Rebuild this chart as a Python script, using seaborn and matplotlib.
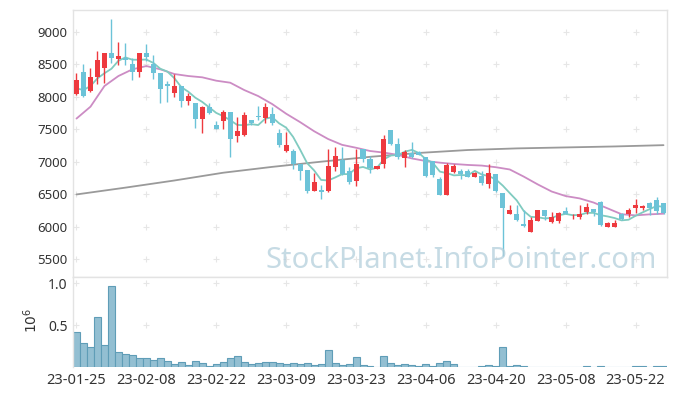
import numpy as np
import pandas as pd
import matplotlib
matplotlib.use("Agg")
import matplotlib.pyplot as plt
import seaborn as sns

# ---------------- data ----------------
tick_labels = ["23-01-25", "23-02-08", "23-02-22", "23-03-09", "23-03-23",
               "23-04-06", "23-04-20", "23-05-08", "23-05-22"]

open_ = [8040, 8380, 8090, 8300, 8450, 8680, 8580, 8600, 8500, 8390,
         8680, 8500, 8360, 8200, 8060, 8170, 7930, 7900, 7660, 7850,
         7570, 7620, 7760, 7400, 7410, 7640, 7700, 7680, 7740, 7450,
         7170, 7170, 6970, 6870, 6550, 6560, 6550, 6920, 7030, 6850,
         6700, 7190, 7040, 6890, 6960, 7490, 7270, 7050, 7130, 7150,
         7070, 7010, 6740, 6490, 6840, 6860, 6850, 6770, 6780, 6660,
         6810, 6510, 6200, 6190, 6040, 5910, 6090, 6250, 6070, 6080,
         6240, 6140, 6140, 6230, 6270, 6380, 6000, 5990, 6190, 6190,
         6290, 6280, 6370, 6410, 6360]
high = [8370, 8510, 8440, 8700, 8680, 9200, 8840, 8830, 8600, 8680,
        8820, 8650, 8360, 8240, 8350, 8170, 8060, 7900, 7860, 7910,
        7630, 7790, 7760, 7690, 7760, 7640, 7860, 7900, 7840, 7500,
        7460, 7200, 6970, 6870, 6820, 6640, 7200, 7220, 7220, 6920,
        7200, 7190, 7090, 6940, 7410, 7490, 7360, 7180, 7300, 7160,
        7070, 7010, 6770, 6980, 6970, 6890, 6880, 6840, 6860, 6970,
        6810, 6510, 6330, 6330, 6260, 6150, 6260, 6250, 6220, 6230,
        6300, 6190, 6330, 6360, 6270, 6390, 6070, 6100, 6210, 6280,
        6420, 6330, 6380, 6450, 6360]
low = [8030, 8000, 8070, 8200, 8210, 8520, 8490, 8490, 8260, 8310,
       8560, 8270, 7900, 7920, 8000, 7840, 7870, 7520, 7440, 7730,
       7500, 7510, 7070, 7300, 7390, 7560, 7650, 7590, 7570, 7230,
       7150, 6890, 6710, 6510, 6550, 6430, 6530, 6860, 6790, 6660,
       6620, 7000, 6830, 6880, 6900, 7250, 7040, 6920, 7060, 7100,
       6770, 6760, 6490, 6490, 6820, 6730, 6760, 6760, 6640, 6600,
       6540, 5540, 6190, 6080, 6000, 5910, 6080, 6100, 6060, 6060,
       6190, 6110, 6120, 6200, 6170, 6010, 6000, 5990, 6100, 6150,
       6210, 6260, 6180, 6200, 6200]
close = [8260, 8010, 8310, 8570, 8680, 8600, 8630, 8570, 8390, 8680,
         8620, 8360, 8120, 8170, 8170, 7930, 8010, 7660, 7840, 7750,
         7500, 7760, 7350, 7470, 7720, 7590, 7690, 7840, 7590, 7250,
         7260, 6970, 6860, 6550, 6690, 6530, 6930, 7090, 6810, 6690,
         6970, 7040, 6900, 6930, 7350, 7270, 7080, 7150, 7070, 7110,
         6780, 6790, 6490, 6950, 6940, 6810, 6770, 6830, 6670, 6820,
         6550, 6290, 6250, 6100, 6010, 6100, 6250, 6170, 6140, 6210,
         6200, 6150, 6190, 6300, 6220, 6020, 6060, 6060, 6120, 6260,
         6330, 6320, 6280, 6240, 6210]
# volume in millions of shares
volume = [0.424, 0.292, 0.244, 0.604, 0.268, 0.964, 0.184, 0.160, 0.148, 0.112,
          0.112, 0.088, 0.112, 0.076, 0.040, 0.064, 0.028, 0.076, 0.052, 0.016,
          0.040, 0.064, 0.112, 0.136, 0.064, 0.040, 0.052, 0.064, 0.064, 0.052,
          0.040, 0.052, 0.040, 0.052, 0.028, 0.040, 0.208, 0.052, 0.028, 0.040,
          0.124, 0.028, 0.016, 0.004, 0.136, 0.052, 0.028, 0.040, 0.028, 0.016,
          0.040, 0.016, 0.052, 0.076, 0.040, 0.004, 0.004, 0.004, 0.016, 0.028,
          0.016, 0.244, 0.016, 0.028, 0.016, 0.004, 0.004, 0.004, 0.004, 0.004,
          0.004, 0.004, 0.004, 0.016, 0.004, 0.016, 0.004, 0.004, 0.004, 0.004,
          0.016, 0.016, 0.004, 0.006, 0.006]
ma5 = [8130, 8105, 8167, 8285, 8364, 8433, 8556, 8608, 8572, 8572,
       8575, 8523, 8433, 8390, 8288, 8149, 8079, 7987, 7921, 7837,
       7752, 7702, 7640, 7567, 7562, 7579, 7565, 7662, 7686, 7591,
       7525, 7382, 7186, 6978, 6866, 6719, 6710, 6756, 6808, 6809,
       6898, 6919, 6881, 6906, 7038, 7096, 7104, 7155, 7182, 7134,
       7037, 6981, 6847, 6823, 6789, 6795, 6789, 6858, 6802, 6778,
       6727, 6631, 6516, 6403, 6240, 6150, 6143, 6125, 6133, 6174,
       6195, 6175, 6179, 6210, 6211, 6175, 6156, 6131, 6095, 6105,
       6166, 6218, 6268, 6316, 6305]
ma20_idx = list(range(0, 85, 2))
ma20 = [7665, 7848, 8167, 8321, 8424, 8475, 8424, 8352, 8321, 8301,
        8249, 8218, 8105, 8012, 7889, 7740, 7610, 7470, 7350, 7260,
        7215, 7165, 7140, 7105, 7050, 7010, 6985, 6965, 6950, 6940,
        6915, 6880, 6770, 6650, 6540, 6470, 6434, 6370, 6280, 6190,
        6172, 6188, 6198]
ma120_idx = [0, 7, 14, 21, 28, 35, 42, 49, 56, 63, 70, 77, 84]
ma120 = [6495, 6600, 6710, 6830, 6920, 7000, 7075, 7135, 7180, 7205, 7220, 7235, 7255]

# ---------------- style ----------------
sns.set_theme(style="white")
plt.rcParams["font.family"] = ["Noto Sans", "DejaVu Sans"]

UP = "#ee3a3f"
DOWN = "#6cc3d8"
SPINE = "#e3e3e3"
TXT = "#333333"

W, H = 677, 396
fig = plt.figure(figsize=(W / 100, H / 100), dpi=100)
fig.patch.set_facecolor("white")
ax = fig.add_axes([73 / W, 1 - 277 / H, 594 / W, 267 / H])
axv = fig.add_axes([73 / W, 1 - 367 / H, 594 / W, 90 / H])

n = len(close)
idx = np.arange(n)
o = np.array(open_, float)
c = np.array(close, float)
hi = np.array(high, float)
lo = np.array(low, float)
up = c >= o
cols = np.where(up, UP, DOWN)

xticks = list(range(0, n, 10))
price_ticks = [5500, 6000, 6500, 7000, 7500, 8000, 8500, 9000]
vol_ticks = [0.5, 1.0]

# grid crosses
gx, gy = np.meshgrid(xticks, price_ticks)
ax.scatter(gx.ravel(), gy.ravel(), marker="+", s=20, color="#e6e6e6", linewidths=0.8, zorder=0)
gx2, gy2 = np.meshgrid(xticks, vol_ticks)
axv.scatter(gx2.ravel(), gy2.ravel(), marker="+", s=20, color="#e6e6e6", linewidths=0.8, zorder=0)

# moving averages
sns.lineplot(x=ma120_idx, y=ma120, ax=ax, color="#9a9a9a", linewidth=1.3, zorder=2)
sns.lineplot(x=ma20_idx, y=ma20, ax=ax, color="#cc8cc4", linewidth=1.3, zorder=2)
sns.lineplot(x=idx, y=ma5, ax=ax, color="#80cbc0", linewidth=1.3, zorder=2)

# candles
ax.vlines(idx, lo, hi, colors=cols, linewidth=1.0, zorder=3)
body_bottom = np.minimum(o, c)
body_h = np.maximum(np.abs(c - o), 14)
ax.bar(idx, body_h, bottom=body_bottom, width=0.72, color=cols, linewidth=0, zorder=4)

ax.set_xlim(-0.5, n - 0.5)
ax.set_ylim(5222, 9339)
ax.set_xticks([])
ax.set_yticks(price_ticks)
ax.set_yticklabels([str(t) for t in price_ticks])
ax.tick_params(axis="y", length=0, pad=4, labelsize=9.5, labelcolor=TXT)
ax.set_xlabel("")
ax.set_ylabel("")

# volume
sns.barplot(x=idx, y=volume, ax=axv, native_scale=True, width=1.0,
            color="#93bfd2", edgecolor="#5f9db7", linewidth=0.8,
            saturation=1, errorbar=None, zorder=2)
axv.set_xlim(-0.5, n - 0.5)
axv.set_ylim(0, 1.077)
axv.set_xticks(xticks)
axv.set_xticklabels(tick_labels)
axv.set_yticks(vol_ticks)
axv.set_yticklabels(["0.5", "1.0"])
axv.tick_params(axis="x", length=0, pad=4, labelsize=10.5, labelcolor=TXT)
axv.tick_params(axis="y", length=0, pad=4, labelsize=10, labelcolor=TXT)
axv.set_xlabel("")
axv.set_ylabel("")
fig.text(32 / W, 1 - 320 / H, r"$10^{6}$", rotation=90, ha="center", va="center",
         fontsize=10, color=TXT)

for a in (ax, axv):
    a.set_facecolor("white")
    for s in a.spines.values():
        s.set_color(SPINE)
        s.set_linewidth(1.0)
axv.spines["bottom"].set_visible(False)
axv.spines["right"].set_visible(False)

# watermark
fig.text(657 / W, 1 - 268 / H, "StockPlanet.InfoPointer.com", ha="right", va="baseline",
         fontsize=21, color="#b4cfdc", alpha=0.75, zorder=10)

fig.savefig("out.png", dpi=100, facecolor="white")
